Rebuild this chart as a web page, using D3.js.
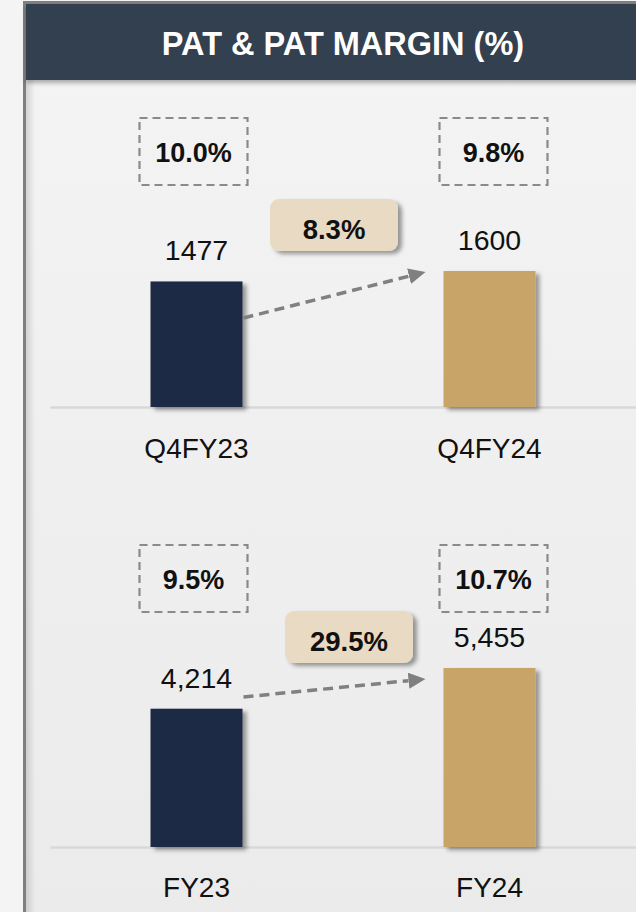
<!DOCTYPE html>
<html>
<head>
<meta charset="utf-8">
<script src="https://cdn.jsdelivr.net/npm/d3@7"></script>
<style>
  body { margin: 0; background: #f4f4f4; }
  svg { display: block; font-family: "Liberation Sans", Arial, sans-serif; }
</style>
</head>
<body>
<svg id="chart" width="636" height="912"></svg>
<script>
const width = 636;
const height = 912;

const chartTitle = "PAT & PAT MARGIN (%)";

// quarter panel
const qtrLabels = ["Q4FY23", "Q4FY24"];
const qtrValues = [1477, 1600];
const qtrValueText = ["1477", "1600"];
const qtrMargins = ["10.0%", "9.8%"];
const qtrGrowth = "8.3%";

// full year panel
const fyLabels = ["FY23", "FY24"];
const fyValues = [4214, 5455];
const fyValueText = ["4,214", "5,455"];
const fyMargins = ["9.5%", "10.7%"];
const fyGrowth = "29.5%";

const barColors = ["#1f2944", "#c8a468"];

const svg = d3.select("svg#chart");
const defs = svg.append("defs");

/* FILTERS + GRADIENTS */
const shadow = defs.append("filter").attr("id", "shadow")
  .attr("x", "-20%").attr("y", "-20%").attr("width", "150%").attr("height", "150%");
shadow.append("feDropShadow")
  .attr("dx", 4).attr("dy", 3).attr("stdDeviation", 2.2)
  .attr("flood-color", "#000").attr("flood-opacity", 0.38);

const headShadow = defs.append("filter").attr("id", "head-shadow")
  .attr("x", "-5%").attr("y", "-10%").attr("width", "110%").attr("height", "130%");
headShadow.append("feDropShadow")
  .attr("dx", 0).attr("dy", 3).attr("stdDeviation", 2)
  .attr("flood-color", "#000").attr("flood-opacity", 0.3);

const bg = defs.append("linearGradient").attr("id", "panel-bg")
  .attr("x1", 0).attr("y1", 0).attr("x2", 0).attr("y2", 1);
bg.append("stop").attr("offset", "0%").attr("stop-color", "#f4f4f4");
bg.append("stop").attr("offset", "100%").attr("stop-color", "#eaeaea");

const edge = defs.append("linearGradient").attr("id", "edge-shade")
  .attr("x1", 0).attr("y1", 0).attr("x2", 1).attr("y2", 0);
edge.append("stop").attr("offset", "0%").attr("stop-color", "#000").attr("stop-opacity", 0.13);
edge.append("stop").attr("offset", "100%").attr("stop-color", "#000").attr("stop-opacity", 0);

defs.append("marker")
  .attr("id", "arrow-head")
  .attr("markerUnits", "userSpaceOnUse")
  .attr("markerWidth", 17).attr("markerHeight", 16)
  .attr("refX", 0).attr("refY", 8)
  .attr("orient", "auto")
  .append("path")
  .attr("d", "M0,0 L17,8 L0,16 Z")
  .attr("fill", "#808080");

/* FRAME + HEADER */
svg.append("rect")
  .attr("x", 24.5).attr("y", 2.5)
  .attr("width", 700).attr("height", 1000)
  .attr("fill", "url(#panel-bg)")
  .attr("stroke", "#7f7f7f").attr("stroke-width", 3);

svg.append("rect")
  .attr("x", 26).attr("y", 80)
  .attr("width", 9).attr("height", height)
  .attr("fill", "url(#edge-shade)");

svg.append("rect")
  .attr("x", 26).attr("y", 4)
  .attr("width", 700).attr("height", 76)
  .attr("fill", "#333f50")
  .attr("filter", "url(#head-shadow)");

svg.append("text")
  .attr("x", 343).attr("y", 55)
  .attr("text-anchor", "middle")
  .attr("fill", "#ffffff")
  .attr("font-weight", "bold")
  .attr("font-size", 32.5)
  .text(chartTitle);

/* PANELS */
drawPanel({
  labels: qtrLabels, values: qtrValues, valueText: qtrValueText,
  margins: qtrMargins, growth: qtrGrowth,
  base: 407, top: 271, boxTop: 118, pillX: 334, pillTop: 199,
  arrowFrom: 318, arrowTo: 272, labelY: 458
});

drawPanel({
  labels: fyLabels, values: fyValues, valueText: fyValueText,
  margins: fyMargins, growth: fyGrowth,
  base: 847, top: 668, boxTop: 545, pillX: 349, pillTop: 611,
  arrowFrom: 697, arrowTo: 679, labelY: 897
});


function drawPanel(p) {
  const g = svg.append("g");

  const x = d3.scaleBand()
    .domain(p.labels)
    .range([50, width])
    .paddingInner(0.686)
    .paddingOuter(0.343);

  const y = d3.scaleLinear()
    .domain([0, d3.max(p.values)])
    .range([p.base, p.top]);

  const rows = p.labels.map((d, i) => ({
    label: d, value: p.values[i], text: p.valueText[i], margin: p.margins[i], i: i
  }));

  // baseline + category labels through the axis
  const axis = d3.axisBottom(x).tickSize(0).tickSizeOuter(0);
  const axisG = g.append("g")
    .attr("transform", translate(0, p.base))
    .call(axis);

  axisG.select(".domain")
    .attr("stroke", "#d8d8d8")
    .attr("stroke-width", 2.5);

  axisG.selectAll(".tick text")
    .attr("y", p.labelY - p.base)
    .attr("dy", 0)
    .attr("fill", "#111")
    .attr("font-size", 28)
    .attr("font-family", "Liberation Sans, Arial, sans-serif");

  // bars
  g.selectAll("rect.bar")
    .data(rows)
    .enter()
    .append("rect")
    .attr("class", "bar")
    .attr("x", d => x(d.label))
    .attr("y", d => y(d.value))
    .attr("width", x.bandwidth())
    .attr("height", d => p.base - y(d.value))
    .attr("fill", d => barColors[d.i])
    .attr("filter", "url(#shadow)");

  // value labels
  g.selectAll("text.value")
    .data(rows)
    .enter()
    .append("text")
    .attr("class", "value")
    .attr("x", d => x(d.label) + x.bandwidth() / 2)
    .attr("y", d => y(d.value) - 21)
    .attr("text-anchor", "middle")
    .attr("font-size", 28.5)
    .attr("fill", "#111")
    .text(d => d.text);

  // dashed margin boxes
  const boxW = 108, boxH = 67;
  const shift = [-3, 4];
  const boxes = g.selectAll("g.margin")
    .data(rows)
    .enter()
    .append("g")
    .attr("class", "margin")
    .attr("transform", d => translate(x(d.label) + x.bandwidth() / 2 + shift[d.i], p.boxTop));

  boxes.append("rect")
    .attr("x", -boxW / 2).attr("y", 0)
    .attr("width", boxW).attr("height", boxH)
    .attr("fill", "none")
    .attr("stroke", "#8a8a8a")
    .attr("stroke-width", 2.2)
    .attr("stroke-dasharray", "8,5");

  boxes.append("text")
    .attr("x", 0).attr("y", 44)
    .attr("text-anchor", "middle")
    .attr("font-weight", "bold")
    .attr("font-size", 27)
    .attr("fill", "#111")
    .text(d => d.margin);

  // growth arrow
  const x0 = x(p.labels[0]) + x.bandwidth() + 1;
  const x1 = x(p.labels[1]) - 18;
  const ang = Math.atan2(p.arrowTo - p.arrowFrom, x1 - x0);
  const headLen = 17;
  g.append("line")
    .attr("x1", x0).attr("y1", p.arrowFrom)
    .attr("x2", x1 - headLen * Math.cos(ang))
    .attr("y2", p.arrowTo - headLen * Math.sin(ang))
    .attr("stroke", "#808080")
    .attr("stroke-width", 3.5)
    .attr("stroke-dasharray", "10,6")
    .attr("marker-end", "url(#arrow-head)");

  // growth pill
  const pillW = 128, pillH = 52;
  const pill = g.append("g").attr("transform", translate(p.pillX, p.pillTop));
  pill.append("rect")
    .attr("x", -pillW / 2).attr("y", 0)
    .attr("width", pillW).attr("height", pillH)
    .attr("rx", 9).attr("ry", 9)
    .attr("fill", "#e8dac3")
    .attr("filter", "url(#shadow)");
  pill.append("text")
    .attr("x", 0).attr("y", 40)
    .attr("text-anchor", "middle")
    .attr("font-weight", "bold")
    .attr("font-size", 27.5)
    .attr("fill", "#111")
    .text(p.growth);
}


function translate(x, y) {
  return 'translate(' + String(x) + ',' + String(y) + ')';
}
</script>
</body>
</html>
